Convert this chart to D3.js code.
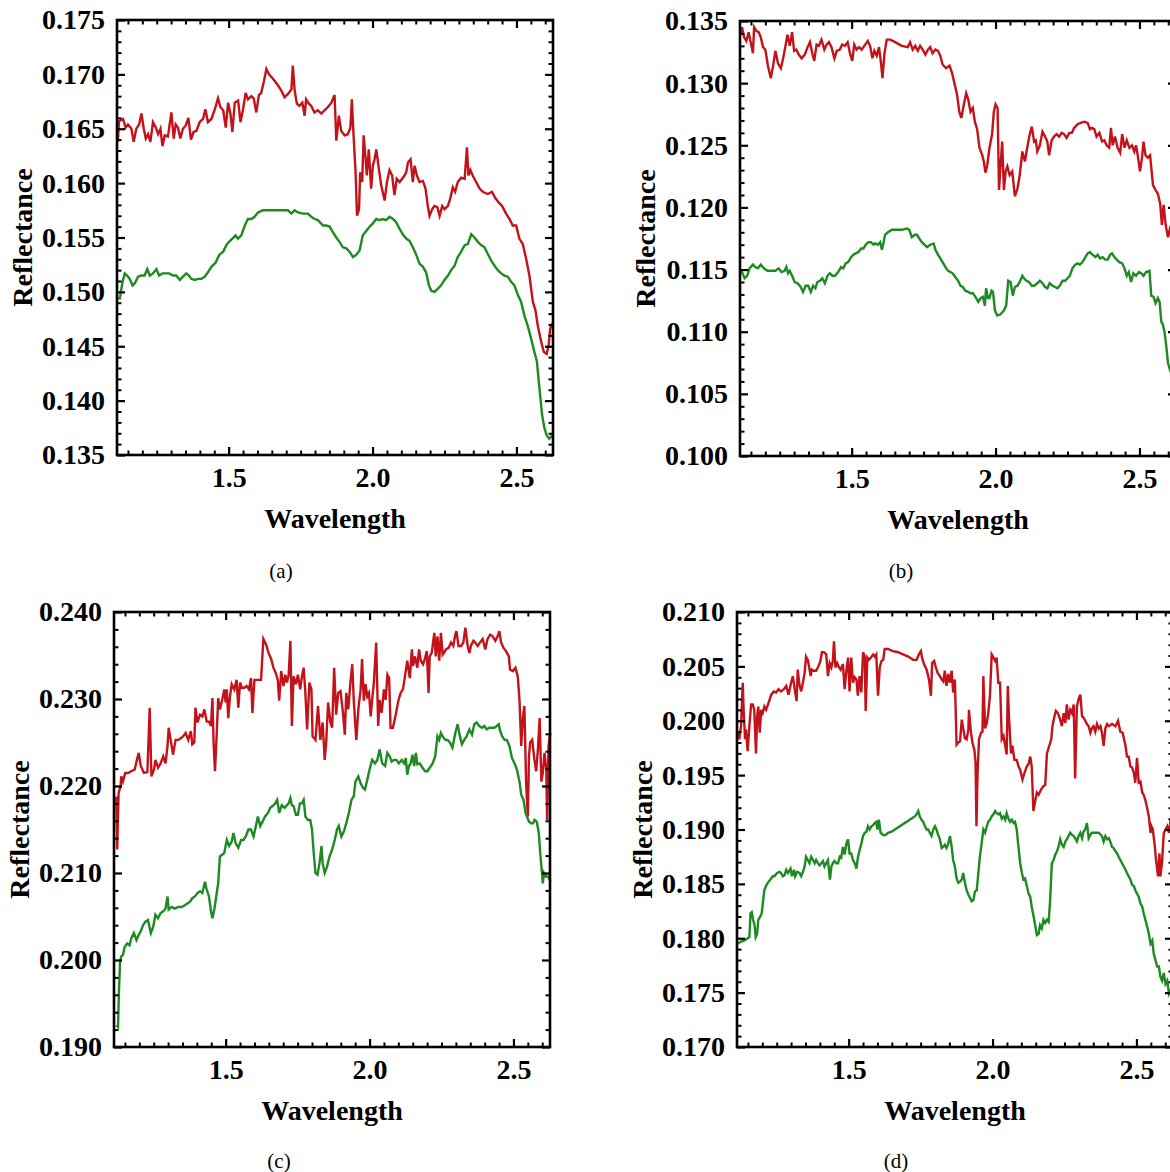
<!DOCTYPE html>
<html>
<head>
<meta charset="utf-8">
<script src="https://cdn.jsdelivr.net/npm/d3@7"></script>
<style>
  body { margin: 0; background: #fff; }
  svg { display: block; }
</style>
</head>
<body>
<script>
'use strict';

// ---- data: [wavelength, reflectance] ----
const redA = [[1.115,0.1638],[1.119,0.1657],[1.133,0.1659],[1.142,0.1651],[1.150,0.1654],[1.162,0.1650],[1.170,0.1638],[1.179,0.1650],[1.189,0.1654],[1.197,0.1664],[1.205,0.1650],[1.212,0.1641],[1.220,0.1645],[1.228,0.1638],[1.237,0.1656],[1.247,0.1651],[1.255,0.1645],[1.263,0.1650],[1.270,0.1634],[1.278,0.1644],[1.289,0.1643],[1.301,0.1665],[1.309,0.1641],[1.316,0.1654],[1.324,0.1651],[1.332,0.1641],[1.341,0.1650],[1.351,0.1653],[1.360,0.1660],[1.369,0.1640],[1.378,0.1647],[1.388,0.1648],[1.399,0.1656],[1.411,0.1659],[1.419,0.1668],[1.428,0.1656],[1.440,0.1659],[1.452,0.1668],[1.463,0.1678],[1.471,0.1670],[1.481,0.1667],[1.490,0.1651],[1.498,0.1674],[1.506,0.1664],[1.513,0.1647],[1.521,0.1674],[1.533,0.1676],[1.541,0.1656],[1.550,0.1668],[1.559,0.1683],[1.567,0.1677],[1.579,0.1680],[1.587,0.1678],[1.596,0.1665],[1.605,0.1681],[1.613,0.1683],[1.622,0.1693],[1.631,0.1705],[1.640,0.1700],[1.654,0.1696],[1.671,0.1690],[1.683,0.1685],[1.694,0.1679],[1.706,0.1682],[1.718,0.1686],[1.723,0.1708],[1.729,0.1686],[1.737,0.1673],[1.746,0.1671],[1.756,0.1674],[1.764,0.1662],[1.769,0.1677],[1.779,0.1673],[1.787,0.1671],[1.798,0.1665],[1.810,0.1667],[1.822,0.1664],[1.833,0.1667],[1.845,0.1670],[1.857,0.1674],[1.868,0.1681],[1.874,0.1639],[1.883,0.1662],[1.891,0.1648],[1.903,0.1644],[1.914,0.1645],[1.923,0.1651],[1.928,0.1677],[1.934,0.1644],[1.941,0.1610],[1.946,0.1570],[1.953,0.1576],[1.957,0.1610],[1.964,0.1601],[1.969,0.1644],[1.976,0.1622],[1.980,0.1607],[1.987,0.1631],[1.995,0.1595],[2.001,0.1616],[2.007,0.1622],[2.013,0.1631],[2.022,0.1613],[2.030,0.1598],[2.042,0.1584],[2.050,0.1601],[2.059,0.1612],[2.068,0.1607],[2.076,0.1589],[2.084,0.1604],[2.094,0.1601],[2.103,0.1604],[2.111,0.1607],[2.117,0.1610],[2.123,0.1619],[2.132,0.1622],[2.140,0.1601],[2.146,0.1616],[2.154,0.1607],[2.163,0.1601],[2.175,0.1602],[2.184,0.1595],[2.192,0.1579],[2.198,0.1570],[2.207,0.1576],[2.215,0.1579],[2.225,0.1578],[2.233,0.1570],[2.242,0.1579],[2.250,0.1576],[2.262,0.1579],[2.270,0.1586],[2.279,0.1596],[2.287,0.1592],[2.296,0.1601],[2.308,0.1605],[2.320,0.1604],[2.328,0.1633],[2.333,0.1607],[2.340,0.1612],[2.348,0.1607],[2.360,0.1601],[2.372,0.1595],[2.383,0.1592],[2.400,0.1590],[2.415,0.1592],[2.427,0.1586],[2.439,0.1582],[2.450,0.1579],[2.464,0.1572],[2.476,0.1567],[2.487,0.1561],[2.499,0.1561],[2.510,0.1549],[2.522,0.1544],[2.534,0.1530],[2.545,0.1515],[2.557,0.1491],[2.566,0.1483],[2.574,0.1469],[2.586,0.1454],[2.595,0.1445],[2.605,0.1443],[2.612,0.1451],[2.617,0.1466],[2.624,0.1471]];

const greenA = [[1.112,0.1494],[1.122,0.1494],[1.131,0.1509],[1.139,0.1517],[1.147,0.1515],[1.156,0.1512],[1.166,0.1506],[1.174,0.1508],[1.185,0.1514],[1.197,0.1515],[1.208,0.1515],[1.217,0.1521],[1.226,0.1515],[1.237,0.1517],[1.249,0.1521],[1.258,0.1515],[1.270,0.1517],[1.281,0.1517],[1.293,0.1517],[1.307,0.1515],[1.318,0.1515],[1.330,0.1511],[1.341,0.1514],[1.353,0.1517],[1.362,0.1515],[1.370,0.1512],[1.382,0.1511],[1.394,0.1512],[1.405,0.1512],[1.417,0.1514],[1.428,0.1518],[1.440,0.1523],[1.455,0.1527],[1.467,0.1534],[1.481,0.1537],[1.492,0.1543],[1.501,0.1546],[1.513,0.1549],[1.524,0.1552],[1.532,0.1549],[1.544,0.1552],[1.556,0.1561],[1.567,0.1567],[1.579,0.1567],[1.590,0.1569],[1.602,0.1573],[1.619,0.1575],[1.642,0.1575],[1.666,0.1575],[1.689,0.1575],[1.706,0.1575],[1.718,0.1572],[1.729,0.1575],[1.741,0.1573],[1.758,0.1572],[1.776,0.1572],[1.787,0.1569],[1.799,0.1567],[1.810,0.1566],[1.828,0.1561],[1.839,0.1561],[1.851,0.1560],[1.862,0.1555],[1.874,0.1550],[1.885,0.1546],[1.897,0.1541],[1.909,0.1540],[1.920,0.1537],[1.932,0.1532],[1.943,0.1534],[1.955,0.1538],[1.966,0.1552],[1.978,0.1556],[1.990,0.1560],[2.001,0.1563],[2.013,0.1567],[2.024,0.1566],[2.036,0.1567],[2.047,0.1566],[2.059,0.1569],[2.071,0.1567],[2.082,0.1564],[2.094,0.1558],[2.105,0.1553],[2.117,0.1549],[2.128,0.1547],[2.140,0.1541],[2.152,0.1534],[2.163,0.1526],[2.175,0.1523],[2.186,0.1518],[2.196,0.1506],[2.204,0.1501],[2.215,0.1500],[2.227,0.1503],[2.238,0.1506],[2.250,0.1511],[2.262,0.1515],[2.273,0.1520],[2.285,0.1524],[2.296,0.1532],[2.308,0.1537],[2.320,0.1543],[2.331,0.1544],[2.343,0.1553],[2.354,0.1550],[2.366,0.1546],[2.377,0.1543],[2.389,0.1541],[2.400,0.1535],[2.412,0.1529],[2.424,0.1524],[2.435,0.1520],[2.447,0.1517],[2.458,0.1515],[2.470,0.1514],[2.482,0.1509],[2.493,0.1506],[2.505,0.1497],[2.516,0.1491],[2.528,0.1478],[2.539,0.1469],[2.551,0.1457],[2.562,0.1445],[2.571,0.1436],[2.580,0.1411],[2.589,0.1387],[2.597,0.1375],[2.605,0.1368],[2.614,0.1365],[2.624,0.1368]];

const redB = [[1.114,0.1339],[1.119,0.1345],[1.126,0.1337],[1.134,0.1334],[1.142,0.1341],[1.149,0.1333],[1.157,0.1324],[1.161,0.1345],[1.169,0.1342],[1.177,0.1341],[1.184,0.1337],[1.192,0.1329],[1.200,0.1327],[1.209,0.1314],[1.219,0.1304],[1.227,0.1314],[1.235,0.1326],[1.244,0.1316],[1.254,0.1312],[1.262,0.1320],[1.270,0.1330],[1.277,0.1339],[1.285,0.1330],[1.293,0.1341],[1.300,0.1326],[1.308,0.1327],[1.316,0.1323],[1.326,0.1320],[1.337,0.1323],[1.347,0.1329],[1.355,0.1333],[1.363,0.1324],[1.370,0.1318],[1.378,0.1331],[1.386,0.1330],[1.395,0.1335],[1.405,0.1327],[1.413,0.1331],[1.421,0.1333],[1.430,0.1329],[1.440,0.1320],[1.448,0.1326],[1.459,0.1327],[1.467,0.1331],[1.477,0.1330],[1.486,0.1333],[1.494,0.1324],[1.502,0.1318],[1.509,0.1331],[1.517,0.1327],[1.526,0.1329],[1.535,0.1327],[1.547,0.1331],[1.556,0.1334],[1.564,0.1330],[1.572,0.1320],[1.579,0.1326],[1.587,0.1322],[1.595,0.1329],[1.602,0.1316],[1.607,0.1304],[1.614,0.1324],[1.622,0.1335],[1.634,0.1335],[1.651,0.1333],[1.674,0.1330],[1.695,0.1329],[1.703,0.1333],[1.712,0.1327],[1.721,0.1330],[1.730,0.1326],[1.738,0.1330],[1.747,0.1327],[1.756,0.1323],[1.765,0.1327],[1.773,0.1329],[1.781,0.1324],[1.791,0.1327],[1.800,0.1326],[1.808,0.1322],[1.816,0.1315],[1.828,0.1312],[1.840,0.1314],[1.849,0.1308],[1.858,0.1299],[1.866,0.1291],[1.874,0.1277],[1.881,0.1272],[1.890,0.1283],[1.898,0.1292],[1.905,0.1287],[1.913,0.1277],[1.921,0.1280],[1.928,0.1269],[1.936,0.1263],[1.944,0.1248],[1.954,0.1242],[1.959,0.1237],[1.965,0.1228],[1.971,0.1234],[1.979,0.1248],[1.988,0.1259],[1.994,0.1277],[2.000,0.1283],[2.007,0.1280],[2.012,0.1214],[2.017,0.1232],[2.023,0.1253],[2.029,0.1214],[2.035,0.1229],[2.041,0.1233],[2.049,0.1226],[2.058,0.1229],[2.067,0.1209],[2.076,0.1215],[2.084,0.1226],[2.093,0.1245],[2.102,0.1237],[2.110,0.1248],[2.119,0.1259],[2.126,0.1265],[2.134,0.1253],[2.140,0.1254],[2.145,0.1245],[2.154,0.1250],[2.163,0.1261],[2.172,0.1257],[2.180,0.1253],[2.186,0.1242],[2.195,0.1254],[2.203,0.1257],[2.212,0.1259],[2.221,0.1257],[2.230,0.1260],[2.238,0.1259],[2.247,0.1256],[2.256,0.1260],[2.265,0.1260],[2.273,0.1264],[2.285,0.1267],[2.296,0.1268],[2.308,0.1269],[2.320,0.1268],[2.328,0.1263],[2.335,0.1264],[2.343,0.1263],[2.351,0.1257],[2.361,0.1260],[2.370,0.1253],[2.378,0.1254],[2.386,0.1250],[2.395,0.1248],[2.401,0.1264],[2.407,0.1250],[2.415,0.1257],[2.424,0.1248],[2.433,0.1244],[2.440,0.1259],[2.448,0.1248],[2.456,0.1254],[2.465,0.1248],[2.474,0.1250],[2.482,0.1245],[2.488,0.1250],[2.494,0.1242],[2.502,0.1229],[2.509,0.1240],[2.514,0.1253],[2.521,0.1242],[2.529,0.1240],[2.537,0.1242],[2.547,0.1218],[2.556,0.1214],[2.564,0.1211],[2.572,0.1203],[2.578,0.1186],[2.584,0.1202],[2.591,0.1186],[2.599,0.1176],[2.605,0.1182],[2.610,0.1178],[2.620,0.1175],[2.627,0.1170]];

const greenB = [[1.110,0.1149],[1.119,0.1148],[1.128,0.1143],[1.137,0.1145],[1.145,0.1151],[1.157,0.1154],[1.165,0.1152],[1.174,0.1151],[1.184,0.1154],[1.195,0.1151],[1.207,0.1149],[1.221,0.1149],[1.235,0.1149],[1.246,0.1151],[1.256,0.1148],[1.267,0.1149],[1.273,0.1152],[1.279,0.1147],[1.285,0.1149],[1.293,0.1145],[1.302,0.1140],[1.312,0.1139],[1.323,0.1136],[1.331,0.1132],[1.340,0.1137],[1.349,0.1137],[1.358,0.1132],[1.366,0.1137],[1.374,0.1135],[1.381,0.1140],[1.390,0.1141],[1.398,0.1143],[1.407,0.1139],[1.416,0.1145],[1.424,0.1147],[1.433,0.1145],[1.442,0.1145],[1.453,0.1148],[1.463,0.1152],[1.471,0.1151],[1.479,0.1155],[1.488,0.1156],[1.498,0.1160],[1.506,0.1162],[1.514,0.1163],[1.523,0.1164],[1.533,0.1167],[1.541,0.1167],[1.549,0.1170],[1.558,0.1172],[1.567,0.1172],[1.576,0.1170],[1.581,0.1171],[1.591,0.1170],[1.599,0.1172],[1.605,0.1166],[1.611,0.1172],[1.616,0.1178],[1.626,0.1180],[1.640,0.1182],[1.657,0.1182],[1.674,0.1182],[1.692,0.1183],[1.700,0.1182],[1.709,0.1176],[1.719,0.1178],[1.727,0.1178],[1.735,0.1175],[1.744,0.1172],[1.753,0.1170],[1.762,0.1168],[1.773,0.1170],[1.785,0.1171],[1.791,0.1166],[1.800,0.1162],[1.808,0.1159],[1.816,0.1156],[1.826,0.1152],[1.835,0.1149],[1.843,0.1148],[1.851,0.1147],[1.860,0.1144],[1.870,0.1141],[1.878,0.1137],[1.886,0.1136],[1.895,0.1133],[1.905,0.1132],[1.913,0.1131],[1.921,0.1131],[1.930,0.1128],[1.940,0.1124],[1.948,0.1127],[1.956,0.1128],[1.963,0.1121],[1.967,0.1135],[1.974,0.1127],[1.979,0.1127],[1.986,0.1133],[1.991,0.1132],[1.998,0.1117],[2.006,0.1113],[2.017,0.1114],[2.029,0.1117],[2.037,0.1121],[2.044,0.1141],[2.052,0.1140],[2.060,0.1129],[2.067,0.1136],[2.076,0.1137],[2.084,0.1140],[2.093,0.1145],[2.099,0.1143],[2.107,0.1141],[2.116,0.1140],[2.126,0.1137],[2.134,0.1137],[2.145,0.1139],[2.154,0.1141],[2.163,0.1139],[2.172,0.1136],[2.180,0.1135],[2.188,0.1139],[2.198,0.1137],[2.207,0.1136],[2.215,0.1135],[2.223,0.1137],[2.233,0.1141],[2.242,0.1141],[2.250,0.1143],[2.258,0.1145],[2.267,0.1151],[2.277,0.1154],[2.285,0.1155],[2.293,0.1154],[2.302,0.1156],[2.312,0.1160],[2.320,0.1163],[2.328,0.1164],[2.337,0.1162],[2.347,0.1160],[2.355,0.1162],[2.363,0.1159],[2.372,0.1160],[2.381,0.1158],[2.390,0.1158],[2.398,0.1162],[2.405,0.1163],[2.413,0.1160],[2.421,0.1158],[2.430,0.1156],[2.440,0.1155],[2.448,0.1151],[2.456,0.1145],[2.463,0.1148],[2.471,0.1140],[2.479,0.1147],[2.488,0.1145],[2.498,0.1148],[2.506,0.1147],[2.514,0.1145],[2.523,0.1148],[2.535,0.1149],[2.541,0.1129],[2.549,0.1128],[2.556,0.1123],[2.564,0.1127],[2.570,0.1124],[2.576,0.1108],[2.581,0.1106],[2.587,0.1100],[2.593,0.1089],[2.599,0.1075],[2.605,0.1070],[2.610,0.1067],[2.620,0.1060],[2.627,0.1055]];

const redC = [[1.120,0.2188],[1.123,0.2127],[1.128,0.2192],[1.135,0.2200],[1.137,0.2211],[1.143,0.2205],[1.151,0.2215],[1.161,0.2215],[1.172,0.2217],[1.184,0.2219],[1.193,0.2232],[1.198,0.2238],[1.205,0.2223],[1.216,0.2215],[1.228,0.2216],[1.236,0.2290],[1.242,0.2211],[1.251,0.2219],[1.256,0.2230],[1.265,0.2221],[1.274,0.2226],[1.283,0.2234],[1.291,0.2226],[1.298,0.2246],[1.302,0.2267],[1.309,0.2253],[1.317,0.2236],[1.326,0.2253],[1.335,0.2253],[1.344,0.2255],[1.352,0.2257],[1.361,0.2261],[1.370,0.2253],[1.379,0.2263],[1.384,0.2248],[1.391,0.2250],[1.395,0.2290],[1.402,0.2273],[1.411,0.2282],[1.419,0.2280],[1.426,0.2288],[1.434,0.2274],[1.442,0.2274],[1.449,0.2269],[1.454,0.2301],[1.458,0.2250],[1.463,0.2217],[1.469,0.2261],[1.474,0.2301],[1.480,0.2288],[1.488,0.2299],[1.495,0.2311],[1.500,0.2296],[1.504,0.2311],[1.509,0.2278],[1.515,0.2303],[1.521,0.2317],[1.530,0.2311],[1.538,0.2322],[1.544,0.2290],[1.550,0.2319],[1.556,0.2313],[1.565,0.2313],[1.573,0.2315],[1.581,0.2311],[1.588,0.2324],[1.593,0.2284],[1.600,0.2322],[1.608,0.2322],[1.616,0.2322],[1.623,0.2322],[1.631,0.2369],[1.640,0.2363],[1.649,0.2353],[1.658,0.2346],[1.666,0.2336],[1.674,0.2330],[1.681,0.2322],[1.686,0.2298],[1.693,0.2332],[1.701,0.2315],[1.707,0.2328],[1.713,0.2319],[1.719,0.2328],[1.725,0.2367],[1.730,0.2269],[1.736,0.2326],[1.744,0.2317],[1.751,0.2328],[1.759,0.2311],[1.765,0.2326],[1.771,0.2336],[1.777,0.2307],[1.783,0.2265],[1.791,0.2319],[1.798,0.2311],[1.802,0.2257],[1.812,0.2253],[1.821,0.2292],[1.829,0.2253],[1.837,0.2273],[1.844,0.2230],[1.849,0.2248],[1.856,0.2296],[1.864,0.2273],[1.870,0.2267],[1.877,0.2336],[1.884,0.2282],[1.891,0.2307],[1.899,0.2309],[1.907,0.2286],[1.914,0.2259],[1.919,0.2307],[1.926,0.2288],[1.934,0.2321],[1.940,0.2340],[1.945,0.2299],[1.954,0.2253],[1.961,0.2288],[1.969,0.2311],[1.974,0.2346],[1.980,0.2298],[1.986,0.2317],[1.992,0.2303],[1.998,0.2307],[2.004,0.2280],[2.009,0.2299],[2.015,0.2319],[2.023,0.2365],[2.030,0.2269],[2.035,0.2299],[2.042,0.2284],[2.050,0.2311],[2.056,0.2299],[2.062,0.2328],[2.068,0.2324],[2.073,0.2267],[2.081,0.2267],[2.091,0.2282],[2.100,0.2298],[2.108,0.2307],[2.116,0.2311],[2.123,0.2326],[2.131,0.2344],[2.140,0.2324],[2.147,0.2357],[2.151,0.2338],[2.158,0.2349],[2.166,0.2336],[2.172,0.2357],[2.178,0.2344],[2.186,0.2340],[2.193,0.2347],[2.199,0.2355],[2.205,0.2307],[2.209,0.2349],[2.216,0.2353],[2.225,0.2376],[2.230,0.2349],[2.236,0.2372],[2.242,0.2344],[2.248,0.2376],[2.254,0.2351],[2.259,0.2353],[2.265,0.2357],[2.275,0.2359],[2.283,0.2365],[2.291,0.2361],[2.298,0.2374],[2.302,0.2378],[2.309,0.2361],[2.318,0.2361],[2.326,0.2365],[2.333,0.2382],[2.341,0.2361],[2.347,0.2353],[2.352,0.2361],[2.361,0.2367],[2.367,0.2365],[2.376,0.2361],[2.384,0.2365],[2.393,0.2369],[2.402,0.2357],[2.410,0.2369],[2.419,0.2374],[2.428,0.2372],[2.437,0.2367],[2.445,0.2372],[2.451,0.2378],[2.457,0.2365],[2.465,0.2359],[2.474,0.2355],[2.484,0.2349],[2.488,0.2334],[2.498,0.2332],[2.507,0.2336],[2.515,0.2326],[2.521,0.2299],[2.527,0.2246],[2.533,0.2280],[2.538,0.2292],[2.544,0.2203],[2.550,0.2165],[2.554,0.2234],[2.558,0.2250],[2.565,0.2253],[2.573,0.2230],[2.579,0.2217],[2.585,0.2242],[2.591,0.2278],[2.597,0.2205],[2.602,0.2215],[2.608,0.2238],[2.614,0.2219],[2.617,0.2161],[2.622,0.2246],[2.626,0.2257],[2.629,0.2261]];

const greenC = [[1.120,0.1925],[1.126,0.1923],[1.129,0.1962],[1.133,0.1998],[1.137,0.2004],[1.143,0.2006],[1.149,0.2015],[1.158,0.2019],[1.166,0.2017],[1.172,0.2025],[1.181,0.2031],[1.190,0.2023],[1.198,0.2029],[1.205,0.2033],[1.213,0.2040],[1.221,0.2044],[1.230,0.2046],[1.240,0.2031],[1.248,0.2038],[1.256,0.2052],[1.265,0.2048],[1.274,0.2054],[1.283,0.2056],[1.291,0.2059],[1.298,0.2073],[1.302,0.2058],[1.312,0.2061],[1.323,0.2059],[1.335,0.2061],[1.347,0.2061],[1.358,0.2063],[1.367,0.2065],[1.376,0.2067],[1.384,0.2071],[1.393,0.2073],[1.402,0.2077],[1.411,0.2079],[1.419,0.2077],[1.428,0.2090],[1.434,0.2081],[1.442,0.2073],[1.449,0.2056],[1.454,0.2048],[1.461,0.2059],[1.469,0.2077],[1.474,0.2088],[1.480,0.2119],[1.488,0.2121],[1.495,0.2123],[1.504,0.2138],[1.512,0.2131],[1.521,0.2136],[1.527,0.2146],[1.535,0.2134],[1.544,0.2129],[1.554,0.2138],[1.562,0.2138],[1.570,0.2142],[1.579,0.2150],[1.588,0.2150],[1.597,0.2142],[1.605,0.2154],[1.612,0.2165],[1.620,0.2154],[1.628,0.2159],[1.637,0.2165],[1.647,0.2169],[1.655,0.2175],[1.663,0.2177],[1.672,0.2180],[1.679,0.2184],[1.686,0.2169],[1.695,0.2178],[1.705,0.2175],[1.713,0.2178],[1.719,0.2180],[1.725,0.2186],[1.730,0.2178],[1.736,0.2177],[1.744,0.2167],[1.751,0.2167],[1.758,0.2180],[1.765,0.2180],[1.771,0.2184],[1.777,0.2165],[1.786,0.2161],[1.794,0.2161],[1.800,0.2150],[1.806,0.2123],[1.812,0.2100],[1.819,0.2098],[1.826,0.2111],[1.833,0.2131],[1.837,0.2111],[1.844,0.2100],[1.852,0.2107],[1.861,0.2119],[1.870,0.2127],[1.879,0.2138],[1.887,0.2150],[1.893,0.2154],[1.902,0.2142],[1.911,0.2148],[1.919,0.2157],[1.928,0.2169],[1.937,0.2184],[1.945,0.2188],[1.951,0.2205],[1.961,0.2211],[1.969,0.2203],[1.977,0.2198],[1.984,0.2196],[1.992,0.2207],[2.000,0.2219],[2.009,0.2230],[2.019,0.2226],[2.027,0.2230],[2.035,0.2242],[2.044,0.2226],[2.054,0.2223],[2.062,0.2238],[2.070,0.2234],[2.077,0.2228],[2.085,0.2230],[2.093,0.2230],[2.102,0.2226],[2.112,0.2230],[2.120,0.2226],[2.126,0.2232],[2.131,0.2213],[2.137,0.2223],[2.143,0.2226],[2.149,0.2236],[2.155,0.2223],[2.161,0.2238],[2.166,0.2225],[2.174,0.2226],[2.184,0.2221],[2.193,0.2217],[2.201,0.2217],[2.209,0.2221],[2.219,0.2226],[2.228,0.2234],[2.236,0.2257],[2.242,0.2253],[2.248,0.2261],[2.254,0.2257],[2.263,0.2253],[2.271,0.2253],[2.279,0.2250],[2.288,0.2244],[2.298,0.2261],[2.306,0.2271],[2.314,0.2257],[2.321,0.2248],[2.329,0.2253],[2.337,0.2257],[2.347,0.2265],[2.356,0.2259],[2.364,0.2271],[2.372,0.2273],[2.381,0.2269],[2.391,0.2267],[2.399,0.2269],[2.407,0.2265],[2.416,0.2267],[2.426,0.2267],[2.434,0.2267],[2.442,0.2269],[2.449,0.2271],[2.454,0.2263],[2.461,0.2257],[2.469,0.2253],[2.477,0.2253],[2.486,0.2246],[2.495,0.2232],[2.504,0.2226],[2.512,0.2219],[2.521,0.2205],[2.527,0.2190],[2.535,0.2184],[2.542,0.2169],[2.547,0.2165],[2.554,0.2159],[2.562,0.2157],[2.568,0.2157],[2.573,0.2161],[2.581,0.2159],[2.588,0.2146],[2.593,0.2123],[2.598,0.2104],[2.602,0.2088],[2.606,0.2100],[2.612,0.2096],[2.620,0.2096],[2.629,0.2090]];

const redD = [[1.114,0.1989],[1.120,0.1983],[1.126,0.1995],[1.132,0.2035],[1.135,0.2010],[1.140,0.1983],[1.143,0.1992],[1.149,0.1972],[1.155,0.1995],[1.161,0.2015],[1.167,0.2015],[1.172,0.2010],[1.178,0.1970],[1.182,0.2004],[1.186,0.2013],[1.191,0.1989],[1.196,0.2010],[1.201,0.2007],[1.207,0.2013],[1.213,0.2010],[1.221,0.2016],[1.231,0.2024],[1.240,0.2027],[1.248,0.2026],[1.256,0.2029],[1.265,0.2027],[1.275,0.2029],[1.283,0.2032],[1.291,0.2024],[1.300,0.2035],[1.306,0.2041],[1.312,0.2030],[1.319,0.2018],[1.323,0.2047],[1.329,0.2033],[1.335,0.2027],[1.341,0.2035],[1.347,0.2044],[1.352,0.2059],[1.358,0.2056],[1.368,0.2041],[1.372,0.2047],[1.379,0.2046],[1.387,0.2046],[1.395,0.2050],[1.402,0.2055],[1.407,0.2063],[1.414,0.2063],[1.422,0.2061],[1.428,0.2041],[1.434,0.2053],[1.440,0.2049],[1.445,0.2055],[1.449,0.2073],[1.454,0.2049],[1.460,0.2053],[1.465,0.2050],[1.472,0.2047],[1.480,0.2052],[1.486,0.2029],[1.492,0.2046],[1.498,0.2058],[1.503,0.2027],[1.509,0.2058],[1.515,0.2035],[1.521,0.2040],[1.527,0.2038],[1.532,0.2023],[1.538,0.2041],[1.544,0.2026],[1.550,0.2063],[1.556,0.2059],[1.559,0.2009],[1.565,0.2058],[1.570,0.2056],[1.577,0.2058],[1.585,0.2061],[1.591,0.2059],[1.596,0.2061],[1.602,0.2023],[1.608,0.2049],[1.614,0.2055],[1.620,0.2056],[1.625,0.2066],[1.637,0.2066],[1.654,0.2064],[1.672,0.2063],[1.689,0.2061],[1.707,0.2059],[1.724,0.2056],[1.736,0.2056],[1.744,0.2061],[1.751,0.2064],[1.755,0.2058],[1.762,0.2052],[1.771,0.2047],[1.779,0.2038],[1.786,0.2023],[1.790,0.2053],[1.797,0.2055],[1.802,0.2050],[1.809,0.2044],[1.817,0.2041],[1.823,0.2038],[1.829,0.2036],[1.834,0.2046],[1.840,0.2032],[1.846,0.2043],[1.852,0.2035],[1.858,0.2046],[1.863,0.2026],[1.869,0.2038],[1.875,0.1978],[1.881,0.1980],[1.887,0.1981],[1.893,0.2001],[1.898,0.1993],[1.904,0.1984],[1.910,0.1983],[1.916,0.1992],[1.918,0.2010],[1.925,0.1989],[1.930,0.1980],[1.937,0.1973],[1.941,0.1961],[1.944,0.1903],[1.948,0.1953],[1.953,0.1983],[1.960,0.1989],[1.965,0.1990],[1.968,0.2041],[1.974,0.1993],[1.980,0.1998],[1.985,0.2007],[1.991,0.2023],[1.997,0.2061],[2.003,0.2058],[2.009,0.2055],[2.014,0.2058],[2.020,0.2035],[2.026,0.2035],[2.032,0.1983],[2.038,0.1986],[2.044,0.1977],[2.049,0.1969],[2.053,0.2032],[2.057,0.2004],[2.064,0.1970],[2.069,0.1977],[2.076,0.1964],[2.084,0.1964],[2.090,0.1958],[2.096,0.1955],[2.104,0.1946],[2.111,0.1952],[2.119,0.1958],[2.125,0.1960],[2.131,0.1967],[2.136,0.1958],[2.142,0.1917],[2.148,0.1926],[2.154,0.1934],[2.160,0.1932],[2.169,0.1937],[2.177,0.1940],[2.183,0.1941],[2.189,0.1970],[2.197,0.1977],[2.204,0.1983],[2.208,0.1995],[2.215,0.2004],[2.220,0.2009],[2.227,0.2007],[2.235,0.2001],[2.241,0.1995],[2.247,0.2007],[2.253,0.1998],[2.258,0.2015],[2.264,0.2001],[2.270,0.2010],[2.276,0.2007],[2.282,0.2015],[2.287,0.1947],[2.293,0.2013],[2.299,0.2020],[2.305,0.2024],[2.311,0.2004],[2.316,0.2003],[2.322,0.2000],[2.328,0.1997],[2.334,0.1995],[2.340,0.1989],[2.345,0.1993],[2.351,0.1995],[2.357,0.1990],[2.363,0.1997],[2.369,0.1993],[2.375,0.1995],[2.380,0.1989],[2.386,0.1977],[2.392,0.1993],[2.398,0.1997],[2.404,0.1995],[2.415,0.1997],[2.427,0.1995],[2.436,0.2000],[2.444,0.1990],[2.452,0.1989],[2.462,0.1977],[2.467,0.1967],[2.473,0.1967],[2.479,0.1958],[2.485,0.1957],[2.491,0.1952],[2.496,0.1943],[2.502,0.1966],[2.508,0.1943],[2.514,0.1944],[2.520,0.1934],[2.525,0.1932],[2.531,0.1927],[2.537,0.1920],[2.543,0.1912],[2.549,0.1897],[2.552,0.1903],[2.557,0.1900],[2.564,0.1884],[2.568,0.1872],[2.575,0.1857],[2.580,0.1878],[2.583,0.1857],[2.589,0.1870],[2.595,0.1897],[2.601,0.1900],[2.607,0.1903],[2.613,0.1897],[2.618,0.1907],[2.627,0.1905]];

const greenD = [[1.114,0.1795],[1.126,0.1797],[1.138,0.1798],[1.149,0.1800],[1.155,0.1801],[1.159,0.1823],[1.163,0.1824],[1.168,0.1817],[1.173,0.1812],[1.177,0.1801],[1.182,0.1804],[1.186,0.1817],[1.193,0.1820],[1.198,0.1823],[1.203,0.1835],[1.207,0.1844],[1.213,0.1848],[1.219,0.1851],[1.228,0.1854],[1.236,0.1857],[1.242,0.1857],[1.251,0.1860],[1.260,0.1861],[1.265,0.1860],[1.271,0.1857],[1.277,0.1858],[1.283,0.1863],[1.289,0.1860],[1.298,0.1864],[1.303,0.1857],[1.310,0.1863],[1.314,0.1857],[1.321,0.1861],[1.329,0.1860],[1.335,0.1857],[1.341,0.1861],[1.347,0.1866],[1.352,0.1875],[1.358,0.1872],[1.364,0.1869],[1.370,0.1875],[1.376,0.1872],[1.382,0.1869],[1.387,0.1872],[1.393,0.1869],[1.399,0.1867],[1.405,0.1869],[1.411,0.1871],[1.416,0.1866],[1.422,0.1869],[1.428,0.1872],[1.435,0.1854],[1.440,0.1866],[1.445,0.1869],[1.451,0.1871],[1.457,0.1869],[1.463,0.1869],[1.469,0.1875],[1.474,0.1874],[1.480,0.1884],[1.486,0.1877],[1.492,0.1887],[1.498,0.1891],[1.503,0.1878],[1.509,0.1878],[1.515,0.1872],[1.521,0.1869],[1.527,0.1864],[1.532,0.1874],[1.538,0.1881],[1.544,0.1887],[1.550,0.1894],[1.556,0.1897],[1.562,0.1898],[1.567,0.1903],[1.573,0.1900],[1.579,0.1903],[1.585,0.1904],[1.591,0.1906],[1.596,0.1907],[1.600,0.1900],[1.605,0.1909],[1.611,0.1897],[1.620,0.1895],[1.628,0.1895],[1.637,0.1897],[1.649,0.1898],[1.666,0.1901],[1.683,0.1904],[1.701,0.1907],[1.718,0.1910],[1.730,0.1912],[1.736,0.1914],[1.742,0.1917],[1.747,0.1912],[1.753,0.1909],[1.759,0.1907],[1.765,0.1903],[1.771,0.1900],[1.776,0.1900],[1.782,0.1897],[1.788,0.1894],[1.794,0.1900],[1.800,0.1903],[1.805,0.1900],[1.811,0.1895],[1.817,0.1891],[1.823,0.1883],[1.829,0.1884],[1.834,0.1886],[1.840,0.1883],[1.846,0.1887],[1.852,0.1894],[1.858,0.1884],[1.863,0.1872],[1.869,0.1866],[1.875,0.1855],[1.881,0.1851],[1.887,0.1852],[1.893,0.1854],[1.898,0.1860],[1.904,0.1851],[1.910,0.1844],[1.916,0.1840],[1.922,0.1837],[1.927,0.1834],[1.933,0.1835],[1.939,0.1843],[1.945,0.1844],[1.951,0.1861],[1.956,0.1875],[1.962,0.1887],[1.968,0.1900],[1.974,0.1897],[1.980,0.1903],[1.985,0.1907],[1.991,0.1909],[1.997,0.1912],[2.003,0.1914],[2.009,0.1917],[2.014,0.1915],[2.020,0.1914],[2.026,0.1915],[2.032,0.1910],[2.038,0.1912],[2.044,0.1909],[2.049,0.1915],[2.055,0.1910],[2.061,0.1907],[2.067,0.1909],[2.073,0.1906],[2.078,0.1907],[2.084,0.1900],[2.090,0.1884],[2.096,0.1869],[2.102,0.1860],[2.107,0.1854],[2.113,0.1855],[2.119,0.1848],[2.125,0.1841],[2.131,0.1838],[2.136,0.1829],[2.142,0.1821],[2.148,0.1812],[2.154,0.1803],[2.160,0.1804],[2.165,0.1812],[2.171,0.1809],[2.177,0.1817],[2.183,0.1814],[2.189,0.1817],[2.195,0.1815],[2.200,0.1835],[2.206,0.1869],[2.212,0.1872],[2.218,0.1877],[2.224,0.1880],[2.229,0.1884],[2.235,0.1891],[2.241,0.1886],[2.247,0.1884],[2.253,0.1889],[2.258,0.1891],[2.264,0.1894],[2.270,0.1897],[2.276,0.1895],[2.282,0.1894],[2.287,0.1892],[2.293,0.1889],[2.299,0.1894],[2.305,0.1897],[2.311,0.1892],[2.316,0.1898],[2.322,0.1900],[2.328,0.1906],[2.334,0.1892],[2.340,0.1895],[2.345,0.1897],[2.357,0.1897],[2.369,0.1897],[2.380,0.1894],[2.386,0.1889],[2.392,0.1894],[2.398,0.1891],[2.404,0.1892],[2.409,0.1889],[2.415,0.1884],[2.421,0.1883],[2.427,0.1880],[2.433,0.1878],[2.438,0.1875],[2.444,0.1872],[2.450,0.1869],[2.456,0.1866],[2.462,0.1863],[2.467,0.1860],[2.473,0.1857],[2.479,0.1854],[2.485,0.1849],[2.491,0.1848],[2.496,0.1844],[2.502,0.1841],[2.508,0.1838],[2.514,0.1832],[2.520,0.1829],[2.525,0.1823],[2.531,0.1817],[2.537,0.1811],[2.543,0.1804],[2.549,0.1795],[2.555,0.1798],[2.560,0.1786],[2.566,0.1780],[2.572,0.1774],[2.578,0.1774],[2.583,0.1765],[2.589,0.1761],[2.595,0.1768],[2.601,0.1758],[2.607,0.1761],[2.613,0.1749],[2.618,0.1752],[2.627,0.1745]];

// axis ticks
const xTicks = [1.5, 2.0, 2.5];
const yTicksA = [0.135, 0.140, 0.145, 0.150, 0.155, 0.160, 0.165, 0.170, 0.175];
const yTicksB = [0.100, 0.105, 0.110, 0.115, 0.120, 0.125, 0.130, 0.135];
const yTicksC = [0.190, 0.200, 0.210, 0.220, 0.230, 0.240];
const yTicksD = [0.170, 0.175, 0.180, 0.185, 0.190, 0.195, 0.200, 0.205, 0.210];
const captions = ['(a)', '(b)', '(c)', '(d)'];

const xDomain = [1.112, 2.627];
const plotW = 436, plotH = 435;
const redColor = '#c4121a';
const greenColor = '#1e8a22';
const serif = '"Liberation Serif", "Times New Roman", serif';

const svg = d3.select('body').append('svg')
  .attr('width', 1170)
  .attr('height', 1172);

svg.append('rect').attr('width', 1170).attr('height', 1172).attr('fill', '#fff');

const panels = [
  { left: 117, top: 20,  yTicks: yTicksA, minorStep: 1, red: redA, green: greenA, capX: 281, capY: 578 },
  { left: 740, top: 21,  yTicks: yTicksB, minorStep: 1, red: redB, green: greenB, capX: 901, capY: 578 },
  { left: 114, top: 612, yTicks: yTicksC, minorStep: 2, red: redC, green: greenC, capX: 279, capY: 1168 },
  { left: 737, top: 612, yTicks: yTicksD, minorStep: 1, red: redD, green: greenD, capX: 896, capY: 1168 }
];

panels.forEach((p, i) => drawPanel(p, captions[i]));

// draw one framed spectrum panel
function drawPanel(p, caption) {
  const g = svg.append('g');

  const x = d3.scaleLinear().domain(xDomain).range([p.left, p.left + plotW]);
  const yLo = p.yTicks[0], yHi = p.yTicks[p.yTicks.length - 1];
  const y = d3.scaleLinear().domain([yLo, yHi]).range([p.top + plotH, p.top]);

  // minor tick positions
  const xMinor = d3.range(23, 53).filter(k => k % 10 !== 0).map(k => k * 0.05);
  const lo = Math.round(yLo * 1000), hi = Math.round(yHi * 1000);
  const majorStep = Math.round((p.yTicks[1] - p.yTicks[0]) * 1000);
  const yMinor = d3.range(lo, hi + 1, p.minorStep)
    .filter(k => (k - lo) % majorStep !== 0)
    .map(k => k / 1000);

  // spectra
  const line = d3.line().x(d => x(d[0])).y(d => y(d[1]));
  g.append('path').datum(p.red)
    .attr('d', line).attr('fill', 'none')
    .attr('stroke', redColor).attr('stroke-width', 2.4).attr('stroke-linejoin', 'miter');
  g.append('path').datum(p.green)
    .attr('d', line).attr('fill', 'none')
    .attr('stroke', greenColor).attr('stroke-width', 2.4).attr('stroke-linejoin', 'miter');

  // ticks on all four sides, pointing inward
  const sides = [
    { axis: d3.axisBottom(x), pos: `translate(0,${p.top + plotH})`, major: xTicks, minor: xMinor, fmt: d3.format('.1f') },
    { axis: d3.axisTop(x), pos: `translate(0,${p.top})`, major: xTicks, minor: xMinor, fmt: null },
    { axis: d3.axisLeft(y), pos: `translate(${p.left},0)`, major: p.yTicks, minor: yMinor, fmt: d3.format('.3f') },
    { axis: d3.axisRight(y), pos: `translate(${p.left + plotW},0)`, major: p.yTicks, minor: yMinor, fmt: null }
  ];

  sides.forEach(s => {
    const minorG = g.append('g').attr('transform', s.pos)
      .call(s.axis.tickValues(s.minor).tickSize(-4.5).tickFormat(''));
    minorG.select('.domain').remove();
    minorG.selectAll('line').attr('stroke', '#000').attr('stroke-width', 2);

    const majorG = g.append('g').attr('transform', s.pos)
      .call(s.axis.tickValues(s.major).tickSize(-8).tickPadding(s.fmt ? 12 : 0)
        .tickFormat(s.fmt ? s.fmt : ''));
    majorG.select('.domain').remove();
    majorG.selectAll('line').attr('stroke', '#000').attr('stroke-width', 2.2);
    majorG.attr('font-family', serif).attr('font-size', 28).attr('font-weight', 'bold');
    majorG.selectAll('text').attr('fill', '#000');
  });

  // frame
  g.append('rect')
    .attr('x', p.left).attr('y', p.top)
    .attr('width', plotW).attr('height', plotH)
    .attr('fill', 'none').attr('stroke', '#000').attr('stroke-width', 2.6);

  // axis titles
  g.append('text')
    .attr('x', p.left + plotW / 2)
    .attr('y', p.top + plotH + 73)
    .attr('text-anchor', 'middle')
    .attr('font-family', serif).attr('font-size', 28).attr('font-weight', 'bold')
    .text('Wavelength');

  g.append('text')
    .attr('transform', `translate(${p.left - 85},${p.top + plotH / 2})rotate(-90)`)
    .attr('text-anchor', 'middle')
    .attr('font-family', serif).attr('font-size', 28).attr('font-weight', 'bold')
    .text('Reflectance');

  // sub-figure caption
  g.append('text')
    .attr('x', p.capX).attr('y', p.capY)
    .attr('text-anchor', 'middle')
    .attr('font-family', serif).attr('font-size', 21)
    .text(caption);
}
</script>
</body>
</html>
